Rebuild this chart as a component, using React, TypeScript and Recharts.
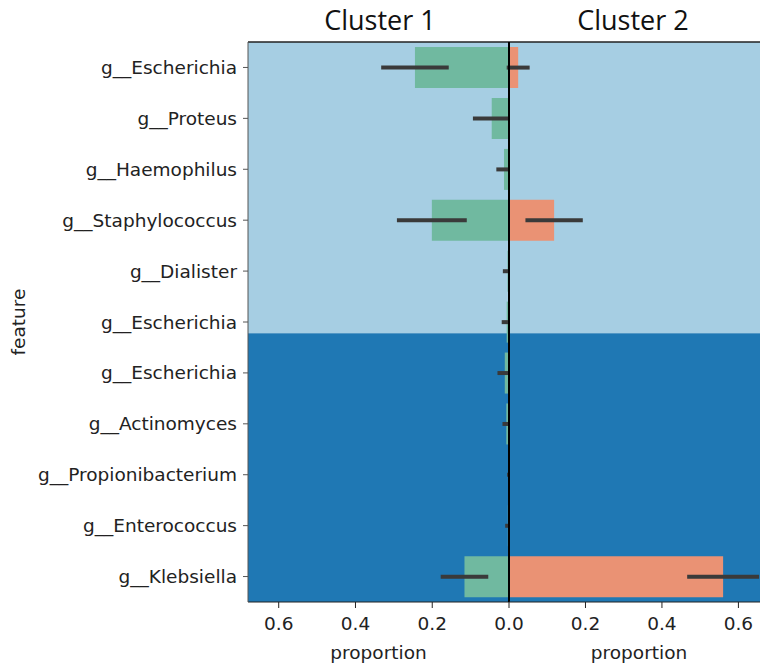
import {
  ComposedChart,
  Bar,
  XAxis,
  YAxis,
  ErrorBar,
  ReferenceArea,
  ReferenceLine,
} from "recharts";

// feature names, top to bottom
const features = [
  "g__Escherichia",
  "g__Proteus",
  "g__Haemophilus",
  "g__Staphylococcus",
  "g__Dialister",
  "g__Escherichia",
  "g__Escherichia",
  "g__Actinomyces",
  "g__Propionibacterium",
  "g__Enterococcus",
  "g__Klebsiella",
];

const cluster1 = [0.245, 0.045, 0.013, 0.201, 0.004, 0.006, 0.011, 0.007, 0.001, 0.003, 0.116];
const cluster1Err = [0.088, 0.049, 0.02, 0.091, 0.012, 0.013, 0.019, 0.01, 0.004, 0.007, 0.062];
const cluster2 = [0.024, 0, 0, 0.118, 0, 0, 0, 0, 0, 0, 0.56];
const cluster2Err = [0.03, 0, 0, 0.075, 0, 0, 0, 0, 0, 0, 0.094];

const leftTicks = [0.2, 0.4, 0.6];
const rightTicks = [0, 0.2, 0.4, 0.6];

const data = features.map((f, i) => ({
  key: String(i),
  pos: i,
  feature: f,
  c1: cluster1[i],
  c1Err: cluster1Err[i],
  c2: cluster2[i],
  c2Err: cluster2Err[i],
}));

const FONT = "'DejaVu Sans', sans-serif";
const LIGHT = "#a6cee3";
const DARK = "#1f78b4";
const GREEN = "#70b9a0";
const ORANGE = "#ea9274";
const ERR = "#3a3a3a";
const SPLIT = 5.22;

const tickStyle = { fontSize: 18.5, fill: "#222", fontFamily: FONT };

const Panel = ({ side }: { side: "left" | "right" }) => {
  const isLeft = side === "left";
  return (
    <ComposedChart
      width={isLeft ? 509 : 289}
      height={671}
      data={data}
      layout="vertical"
      barCategoryGap="10%"
      margin={{ top: 42, right: 0, bottom: 39, left: isLeft ? 0 : 29 }}
    >
      <XAxis
        type="number"
        domain={[0, 0.68]}
        allowDataOverflow
        reversed={isLeft}
        ticks={isLeft ? leftTicks : rightTicks}
        interval={0}
        tickFormatter={(v: number) => v.toFixed(1)}
        tick={tickStyle}
        tickSize={6}
        tickMargin={9}
        height={30}
        stroke="#222"
        label={{
          value: "proportion",
          position: "bottom",
          offset: 14,
          style: { fontSize: 18.5, fill: "#222", fontFamily: FONT },
        }}
      />
      <YAxis
        type="category"
        dataKey="key"
        hide={!isLeft}
        width={248}
        tickFormatter={(v: string) => features[Number(v)]}
        tick={tickStyle}
        tickSize={5}
        tickMargin={6}
        axisLine={{ stroke: "#555" }}
        tickLine={{ stroke: "#555" }}
        interval={0}
        label={{
          value: "feature",
          angle: -90,
          position: "insideLeft",
          offset: 18,
          style: { fontSize: 18.5, fill: "#222", fontFamily: FONT, textAnchor: "middle" },
        }}
      />
      <YAxis
        yAxisId="num"
        type="number"
        dataKey="pos"
        domain={[-0.5, 10.5]}
        allowDataOverflow
        hide
      />
      <ReferenceArea
        yAxisId="num"
        x1={0}
        x2={0.68}
        y1={-0.5}
        y2={SPLIT}
        fill={LIGHT}
        fillOpacity={1}
        stroke="none"
        ifOverflow="visible"
      />
      <ReferenceArea
        yAxisId="num"
        x1={0}
        x2={0.68}
        y1={SPLIT}
        y2={10.5}
        fill={DARK}
        fillOpacity={1}
        stroke="none"
        ifOverflow="visible"
      />
      <ReferenceLine yAxisId="num" y={-0.5} stroke="#222" strokeWidth={1.5} ifOverflow="visible" />
      <Bar dataKey={isLeft ? "c1" : "c2"} fill={isLeft ? GREEN : ORANGE} isAnimationActive={false}>
        <ErrorBar
          dataKey={isLeft ? "c1Err" : "c2Err"}
          direction="x"
          width={0}
          strokeWidth={4}
          stroke={ERR}
        />
      </Bar>
      <ReferenceLine x={0} stroke="#000" strokeWidth={2} />
    </ComposedChart>
  );
};

const titleStyle = {
  position: "absolute" as const,
  top: 1,
  width: 200,
  textAlign: "center" as const,
  fontFamily: "'Open Sans', sans-serif",
  fontSize: 27,
  color: "#111",
};

export default function App() {
  return (
    <div
      style={{
        position: "absolute",
        left: 0,
        top: 0,
        width: 760,
        height: 671,
        overflow: "hidden",
        background: "#fff",
      }}
    >
      <div style={{ position: "absolute", left: 0, top: 0 }}>
        <Panel side="left" />
      </div>
      <div style={{ position: "absolute", left: 480, top: 0 }}>
        <Panel side="right" />
      </div>
      <div style={{ ...titleStyle, left: 280 }}>Cluster 1</div>
      <div style={{ ...titleStyle, left: 533 }}>Cluster 2</div>
    </div>
  );
}
